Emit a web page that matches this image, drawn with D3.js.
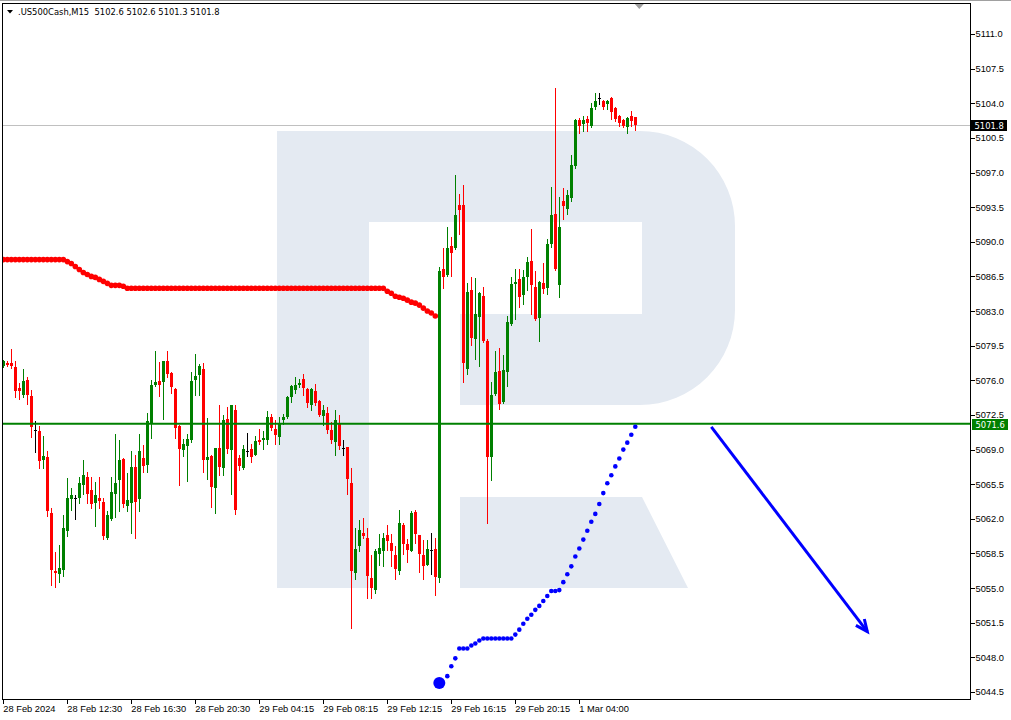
<!DOCTYPE html>
<html>
<head>
<meta charset="utf-8">
<script src="https://cdn.jsdelivr.net/npm/d3@7"></script>
<style>
  html, body { margin: 0; padding: 0; background: #fff; }
  svg { display: block; font-family: "DejaVu Sans Condensed", "DejaVu Sans", sans-serif; font-stretch: condensed; }
</style>
</head>
<body>
<svg id="chart" width="1011" height="720"></svg>
<script>
const symbolTitle = '.US500Cash,M15';
const lastQuote = [5102.6, 5102.6, 5101.3, 5101.8];

// M15 candles, [open, high, low, close]
const candles = [
  [5077.4, 5078.1, 5077.3, 5078.0], [5077.8, 5078.0, 5077.4, 5077.5], [5077.8, 5079.2, 5077.2, 5077.4], [5077.3, 5078.0, 5074.3, 5074.9],
  [5075.2, 5075.7, 5074.1, 5074.9], [5074.5, 5077.1, 5074.3, 5075.9], [5076.0, 5076.3, 5073.6, 5074.5], [5074.4, 5075.0, 5070.3, 5071.3],
  [5071.0, 5071.9, 5068.8, 5071.0], [5070.9, 5071.4, 5067.1, 5067.8], [5067.9, 5070.4, 5067.1, 5068.4], [5068.3, 5068.9, 5062.3, 5062.8],
  [5062.6, 5063.1, 5055.3, 5056.8], [5056.7, 5058.6, 5055.1, 5056.5], [5056.4, 5059.4, 5055.6, 5057.0], [5056.8, 5062.4, 5056.2, 5061.1],
  [5060.8, 5066.1, 5060.3, 5064.1], [5064.0, 5065.1, 5062.9, 5064.4], [5064.1, 5064.4, 5062.0, 5064.1], [5064.1, 5066.2, 5063.6, 5065.6],
  [5065.4, 5067.9, 5064.5, 5066.4], [5066.2, 5066.7, 5063.6, 5064.5], [5064.9, 5066.2, 5063.1, 5063.5], [5063.6, 5065.7, 5061.3, 5064.4],
  [5064.1, 5066.2, 5063.1, 5063.8], [5063.7, 5064.1, 5060.0, 5060.3], [5060.1, 5062.8, 5060.0, 5062.4], [5062.0, 5066.2, 5061.9, 5064.7],
  [5064.5, 5070.6, 5062.2, 5065.6], [5065.9, 5070.0, 5062.8, 5067.9], [5068.0, 5068.1, 5063.2, 5063.5], [5063.3, 5066.6, 5062.8, 5063.9],
  [5063.6, 5068.9, 5060.6, 5067.2], [5067.2, 5068.5, 5060.1, 5063.7], [5064.0, 5070.6, 5062.8, 5068.9], [5068.1, 5069.5, 5066.7, 5067.3],
  [5067.4, 5072.7, 5066.7, 5071.9], [5071.7, 5076.0, 5070.2, 5075.5], [5075.5, 5079.0, 5075.4, 5075.8], [5075.9, 5077.9, 5074.4, 5075.5],
  [5075.8, 5078.0, 5072.1, 5078.0], [5078.0, 5079.0, 5076.3, 5076.6], [5076.7, 5076.8, 5074.7, 5075.3], [5075.1, 5075.2, 5070.2, 5071.2],
  [5071.4, 5071.5, 5065.4, 5069.1], [5069.0, 5070.1, 5068.4, 5069.6], [5069.4, 5070.6, 5065.8, 5070.1], [5070.0, 5076.8, 5069.8, 5075.9],
  [5076.0, 5078.7, 5074.5, 5076.4], [5076.5, 5077.6, 5074.5, 5077.4], [5077.1, 5077.8, 5066.7, 5067.9], [5067.9, 5072.2, 5066.0, 5068.3],
  [5068.4, 5068.5, 5063.2, 5065.2], [5065.1, 5069.2, 5062.6, 5069.2], [5069.2, 5073.5, 5066.4, 5067.2], [5067.1, 5072.5, 5066.4, 5072.0],
  [5072.1, 5073.3, 5068.7, 5069.1], [5069.0, 5073.5, 5064.5, 5073.5], [5073.0, 5073.5, 5062.5, 5062.9], [5068.1, 5068.5, 5066.9, 5067.3],
  [5067.1, 5069.5, 5067.0, 5069.1], [5068.9, 5070.7, 5068.4, 5068.9], [5069.1, 5069.6, 5067.7, 5068.3], [5068.5, 5070.4, 5068.5, 5069.9],
  [5070.0, 5071.1, 5069.6, 5069.8], [5070.0, 5070.9, 5069.1, 5070.2], [5070.0, 5072.9, 5069.6, 5072.3], [5072.3, 5072.6, 5071.0, 5071.2],
  [5071.1, 5072.0, 5069.6, 5070.5], [5070.3, 5072.3, 5069.6, 5071.7], [5072.0, 5072.6, 5071.6, 5072.3], [5072.3, 5074.4, 5072.2, 5074.3],
  [5074.3, 5075.5, 5073.8, 5075.4], [5075.0, 5076.3, 5074.7, 5075.5], [5075.5, 5076.1, 5075.3, 5075.7], [5076.1, 5076.6, 5074.5, 5075.2],
  [5075.1, 5075.2, 5073.3, 5073.7], [5073.5, 5075.2, 5073.0, 5075.1], [5074.9, 5075.6, 5073.5, 5073.7], [5073.9, 5074.0, 5072.4, 5072.5],
  [5072.4, 5073.5, 5071.5, 5073.0], [5072.7, 5073.3, 5070.7, 5071.0], [5071.0, 5071.8, 5069.7, 5070.0], [5069.8, 5073.0, 5068.5, 5072.0],
  [5071.7, 5072.5, 5069.1, 5069.4], [5069.2, 5070.0, 5068.5, 5069.2], [5069.3, 5069.3, 5064.5, 5066.0], [5065.6, 5067.1, 5051.0, 5056.7],
  [5056.5, 5061.1, 5055.9, 5059.0], [5059.3, 5061.9, 5058.7, 5060.9], [5060.6, 5062.1, 5060.1, 5060.3], [5060.1, 5061.1, 5054.0, 5056.2],
  [5056.0, 5058.3, 5054.0, 5055.0], [5054.8, 5059.0, 5054.5, 5058.8], [5058.4, 5060.5, 5057.3, 5059.1], [5058.7, 5060.6, 5057.2, 5060.1],
  [5060.4, 5061.4, 5058.9, 5059.8], [5059.6, 5060.5, 5057.2, 5058.7], [5058.3, 5059.3, 5055.9, 5056.9], [5056.7, 5062.9, 5056.4, 5061.6],
  [5061.4, 5061.6, 5058.4, 5059.5], [5059.5, 5060.0, 5057.6, 5058.9], [5058.8, 5062.8, 5058.7, 5062.6], [5062.7, 5062.9, 5059.6, 5060.5],
  [5060.4, 5060.4, 5056.6, 5058.4], [5058.3, 5059.9, 5055.9, 5057.2], [5057.3, 5059.9, 5057.3, 5059.0], [5058.9, 5060.6, 5056.4, 5058.9],
  [5059.0, 5060.1, 5054.3, 5056.1], [5056.0, 5087.5, 5055.6, 5087.0], [5087.3, 5089.4, 5085.3, 5086.4], [5086.6, 5091.5, 5086.5, 5089.4],
  [5089.6, 5090.5, 5086.5, 5088.9], [5089.4, 5096.7, 5089.3, 5092.7], [5093.7, 5094.8, 5090.8, 5093.2], [5093.7, 5095.7, 5075.8, 5077.7],
  [5077.1, 5085.8, 5076.6, 5084.9], [5085.1, 5086.4, 5079.6, 5080.3], [5080.2, 5086.3, 5078.2, 5082.7], [5082.4, 5084.9, 5077.4, 5084.8],
  [5084.5, 5085.4, 5079.9, 5080.0], [5080.0, 5080.2, 5061.6, 5068.3], [5068.3, 5075.8, 5065.9, 5074.5], [5074.6, 5079.0, 5074.5, 5076.8],
  [5076.9, 5079.3, 5073.1, 5073.6], [5073.8, 5078.6, 5073.7, 5077.0], [5076.8, 5082.5, 5075.4, 5081.9], [5081.7, 5086.4, 5081.6, 5085.7],
  [5085.7, 5087.2, 5082.2, 5085.9], [5086.2, 5087.3, 5083.4, 5084.4], [5084.6, 5087.1, 5083.7, 5086.4], [5086.4, 5088.5, 5085.1, 5088.0],
  [5088.1, 5091.3, 5082.7, 5085.6], [5085.4, 5087.0, 5082.1, 5082.2], [5082.3, 5086.0, 5080.0, 5085.9], [5085.8, 5087.9, 5084.8, 5085.2],
  [5085.3, 5090.3, 5084.7, 5089.8], [5089.8, 5095.5, 5089.5, 5092.7], [5092.8, 5105.5, 5087.1, 5087.2], [5085.6, 5094.5, 5084.4, 5091.5],
  [5094.1, 5095.4, 5092.3, 5093.6], [5093.3, 5095.2, 5092.8, 5094.7], [5094.4, 5098.8, 5094.1, 5097.8], [5097.7, 5102.4, 5097.5, 5102.3],
  [5102.3, 5102.5, 5101.0, 5101.7], [5101.9, 5102.7, 5101.2, 5102.3], [5102.4, 5102.7, 5101.2, 5102.0], [5101.7, 5104.0, 5101.6, 5103.5],
  [5103.6, 5105.0, 5103.4, 5104.2], [5104.5, 5105.0, 5103.9, 5104.5], [5104.2, 5104.3, 5103.4, 5103.6], [5103.9, 5104.3, 5103.4, 5104.2],
  [5104.5, 5104.6, 5102.4, 5103.1], [5103.5, 5103.6, 5102.2, 5102.4], [5102.7, 5102.8, 5101.7, 5102.0], [5102.3, 5102.4, 5101.6, 5101.7],
  [5101.6, 5102.6, 5101.0, 5102.5], [5102.7, 5103.2, 5101.7, 5102.2], lastQuote
];

// red moving average, one value per bar starting at bar 0
const maValues = [
  5088.2, 5088.2, 5088.2, 5088.2, 5088.2, 5088.2, 5088.2, 5088.2, 5088.2, 5088.2, 5088.2, 5088.2, 5088.2, 5088.2, 5088.2, 5088.2,
  5088.0, 5087.8, 5087.5, 5087.2, 5086.9, 5086.7, 5086.5, 5086.4, 5086.2, 5086.0, 5085.8, 5085.6, 5085.6, 5085.6, 5085.5,
  5085.3, 5085.3, 5085.3, 5085.3, 5085.3, 5085.3, 5085.3, 5085.3, 5085.3, 5085.3, 5085.3, 5085.3, 5085.3, 5085.3, 5085.3, 5085.3,
  5085.3, 5085.3, 5085.3, 5085.3, 5085.3, 5085.3, 5085.3, 5085.3, 5085.3, 5085.3, 5085.3, 5085.3, 5085.3, 5085.3, 5085.3, 5085.3,
  5085.3, 5085.3, 5085.3, 5085.3, 5085.3, 5085.3, 5085.3, 5085.3, 5085.3, 5085.3, 5085.3, 5085.3, 5085.3, 5085.3, 5085.3, 5085.3,
  5085.3, 5085.3, 5085.3, 5085.3, 5085.3, 5085.3, 5085.3, 5085.3, 5085.3, 5085.3, 5085.3, 5085.3, 5085.3, 5085.3, 5085.3, 5085.3,
  5085.3, 5085.0, 5084.8, 5084.5, 5084.4, 5084.3, 5084.1, 5083.9, 5083.8, 5083.6, 5083.3, 5083.0, 5082.8, 5082.5
];

// blue dotted projection
const projectionStart = [109, 5045.4];
const projectionFirstBar = 111;
const projectionValues = [
  5046.1, 5047.1, 5047.9, 5048.9, 5048.9, 5048.9, 5049.2, 5049.4, 5049.7, 5049.9,
  5049.9, 5049.9, 5049.9, 5049.9, 5049.9, 5049.9, 5049.9, 5050.3, 5050.8, 5051.4,
  5051.9, 5052.3, 5052.8, 5053.2, 5053.7, 5054.2, 5054.7, 5054.7, 5054.8, 5055.6,
  5056.4, 5057.2, 5058.2, 5059.0, 5059.9, 5060.8, 5061.7, 5062.5, 5063.5, 5064.6,
  5065.6, 5066.4, 5067.3, 5068.1, 5069.0, 5069.7, 5070.5, 5071.3
];

const bidPrice = 5101.8;
const levelPrice = 5071.6;
const arrowFrom = [177, 5071.3];
const arrowTo = [216, 5050.6];

const priceTicks = [5111.0, 5107.5, 5104.0, 5100.5, 5097.0, 5093.5, 5090.0, 5086.5, 5083.0, 5079.5,
  5076.0, 5072.5, 5069.0, 5065.5, 5062.0, 5058.5, 5055.0, 5051.5, 5048.0, 5044.5];
const timeTickBars = [0, 16, 32, 48, 64, 80, 96, 112, 128, 144];
const timeTickLabels = ['28 Feb 2024', '28 Feb 12:30', '28 Feb 16:30', '28 Feb 20:30', '29 Feb 04:15',
  '29 Feb 08:15', '29 Feb 12:15', '29 Feb 16:15', '29 Feb 20:15', '1 Mar 04:00'];

const colors = {up: '#008000', down: '#ff0000', flat: '#000000', ma: '#ff0000', proj: '#0000ff',
  level: '#008000', bid: '#c0c0c0', logo: '#e4eaf2'};
const fontSize = 9.3;

const svg = d3.select('#chart');
const frame = {left: 2.5, top: 3.5, right: 970.5, bottom: 699.5};

const x = d3.scaleLinear().domain([0, 242]).range([3.3, 971.3]);
const y = d3.scaleLinear().domain([5044.5, 5111.0]).range([692, 34]);

// window edge
svg.append('line')
  .attr('x1', 0).attr('x2', 1011).attr('y1', 0.5).attr('y2', 0.5)
  .attr('stroke', '#a0a0a0').attr('shape-rendering', 'crispEdges');

svg.append('defs').append('clipPath').attr('id', 'plotClip')
  .append('rect')
  .attr('x', frame.left + 0.5).attr('y', frame.top + 0.5)
  .attr('width', frame.right - frame.left - 1).attr('height', frame.bottom - frame.top - 1);

const plot = svg.append('g').attr('clip-path', 'url(#plotClip)');

// broker watermark
plot.append('path')
  .attr('fill', colors.logo)
  .attr('d', 'M277,131 H640 A95,95 0 0 1 735,226 V310 A95,95 0 0 1 640,405 H460 V314 H642 V222 H369 V588 H277 Z' +
    ' M460,497 H642 L688,588 H460 Z');

// bid line
plot.append('line')
  .attr('x1', frame.left).attr('x2', frame.right)
  .attr('y1', Math.round(y(bidPrice)) + 0.5).attr('y2', Math.round(y(bidPrice)) + 0.5)
  .attr('stroke', colors.bid).attr('shape-rendering', 'crispEdges');

// moving average dots
plot.append('g').selectAll('circle')
  .data(maValues)
  .enter().append('circle')
  .attr('cx', (d, i) => x(i))
  .attr('cy', d => y(d))
  .attr('r', 2.8)
  .attr('fill', colors.ma);

// candles
const candleColor = d => d[3] > d[0] ? colors.up : (d[3] < d[0] ? colors.down : colors.flat);
const candleG = plot.append('g').attr('shape-rendering', 'crispEdges')
  .selectAll('g')
  .data(candles)
  .enter().append('g');

candleG.append('rect')
  .attr('x', (d, i) => Math.round(x(i)))
  .attr('width', 1)
  .attr('y', d => Math.round(y(d[1])))
  .attr('height', d => Math.round(y(d[2])) - Math.round(y(d[1])) + 1)
  .attr('fill', candleColor);

candleG.append('rect')
  .attr('x', (d, i) => Math.round(x(i)) - 1)
  .attr('width', 3)
  .attr('y', d => Math.round(y(Math.max(d[0], d[3]))))
  .attr('height', d => Math.max(1, Math.round(y(Math.min(d[0], d[3]))) - Math.round(y(Math.max(d[0], d[3])))))
  .attr('fill', candleColor);

// horizontal level
plot.append('line')
  .attr('x1', frame.left).attr('x2', frame.right)
  .attr('y1', y(levelPrice)).attr('y2', y(levelPrice))
  .attr('stroke', colors.level).attr('stroke-width', 2);

// projection dots
plot.append('g').selectAll('circle')
  .data(projectionValues)
  .enter().append('circle')
  .attr('cx', (d, i) => x(projectionFirstBar + i))
  .attr('cy', d => y(d))
  .attr('r', 2.3)
  .attr('fill', colors.proj);

plot.append('circle')
  .attr('cx', x(projectionStart[0])).attr('cy', y(projectionStart[1]))
  .attr('r', 6).attr('fill', colors.proj);

// arrow
const ax1 = x(arrowFrom[0]), ay1 = y(arrowFrom[1]);
const ax2 = x(arrowTo[0]), ay2 = y(arrowTo[1]);
const ang = Math.atan2(ay2 - ay1, ax2 - ax1);
const headLen = 13, headAng = 0.42;
plot.append('line')
  .attr('x1', ax1).attr('y1', ay1).attr('x2', ax2).attr('y2', ay2)
  .attr('stroke', colors.proj).attr('stroke-width', 3);
plot.append('path')
  .attr('d', `M${ax2 - headLen * Math.cos(ang - headAng)},${ay2 - headLen * Math.sin(ang - headAng)} L${ax2},${ay2} L${ax2 - headLen * Math.cos(ang + headAng)},${ay2 - headLen * Math.sin(ang + headAng)}`)
  .attr('fill', 'none').attr('stroke', colors.proj).attr('stroke-width', 3);

// frame
svg.append('rect')
  .attr('x', frame.left).attr('y', frame.top)
  .attr('width', frame.right - frame.left).attr('height', frame.bottom - frame.top)
  .attr('fill', 'none').attr('stroke', '#000').attr('shape-rendering', 'crispEdges');

// price axis
const yAxis = d3.axisRight(y)
  .tickValues(priceTicks)
  .tickSize(4)
  .tickPadding(1)
  .tickFormat(d3.format('.1f'));

svg.append('g')
  .attr('transform', `translate(${frame.right},0)`)
  .call(yAxis)
  .call(g => g.select('.domain').remove())
  .call(g => g.selectAll('line').attr('stroke', '#000').attr('shape-rendering', 'crispEdges'))
  .call(g => g.selectAll('text').attr('fill', '#000').attr('font-size', fontSize).attr('font-family', null));

// time axis
const xAxis = d3.axisBottom(x)
  .tickValues(timeTickBars)
  .tickSize(4)
  .tickFormat((d, i) => timeTickLabels[i]);

svg.append('g')
  .attr('transform', `translate(0,${frame.bottom})`)
  .call(xAxis)
  .call(g => g.select('.domain').remove())
  .call(g => g.selectAll('line').attr('stroke', '#000').attr('shape-rendering', 'crispEdges'))
  .call(g => g.selectAll('text')
    .attr('fill', '#000').attr('font-size', fontSize).attr('font-family', null)
    .attr('text-anchor', 'start').attr('x', -0.5).attr('y', 12).attr('dy', null));

// price tags
const bidY = Math.round(y(bidPrice));
svg.append('rect')
  .attr('x', 971).attr('y', bidY - 5).attr('width', 36).attr('height', 11)
  .attr('fill', '#000');
svg.append('text')
  .attr('x', 974.5).attr('y', bidY + 3.5)
  .attr('font-size', fontSize).attr('fill', '#fff')
  .text(d3.format('.1f')(bidPrice));

const lvlY = Math.round(y(levelPrice));
svg.append('rect')
  .attr('x', 972).attr('y', lvlY - 5).attr('width', 36).attr('height', 11)
  .attr('fill', colors.level);
svg.append('text')
  .attr('x', 975.5).attr('y', lvlY + 3.5)
  .attr('font-size', fontSize).attr('fill', '#fff')
  .text(d3.format('.1f')(levelPrice));

// chart shift marker
const shiftX = x(candles.length);
svg.append('path')
  .attr('d', `M${shiftX - 4.5},4 H${shiftX + 4.5} L${shiftX},9 Z`)
  .attr('fill', '#a0a0a0');

// header
svg.append('path').attr('d', 'M7,10 H13 L10,13.5 Z').attr('fill', '#000');
svg.append('text')
  .attr('x', 18).attr('y', 15)
  .attr('font-size', fontSize).attr('fill', '#000')
  .style('white-space', 'pre')
  .text(`${symbolTitle}  ${lastQuote.map(d3.format('.1f')).join(' ')}`);
</script>
</body>
</html>
